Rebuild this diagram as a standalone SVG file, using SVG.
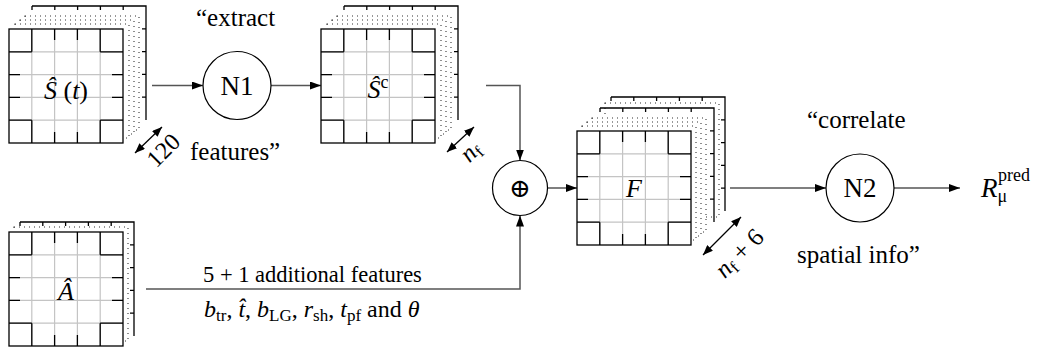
<svg xmlns="http://www.w3.org/2000/svg" width="1040" height="351" viewBox="0 0 1040 351">
<style>
.t{font-family:Liberation Serif, DejaVu Serif, Noto Serif, serif;fill:#000}
.lbl{font-size:25px}
.gl{fill:none;stroke:#c4c4c4;stroke-width:1.2}
.bk{fill:none;stroke:#000;stroke-width:1.3}
.frame{fill:none;stroke:#000;stroke-width:1.3}
.dot{fill:#fff;stroke:#333;stroke-width:1.1;stroke-dasharray:1 4}
.back{fill:none;stroke:#000;stroke-width:1.3}
.conn{fill:none;stroke:#555;stroke-width:1.5}
.node{fill:#fff;stroke:#000;stroke-width:1.2}
.dim{fill:none;stroke:#000;stroke-width:1.3}
</style>
<defs>
<marker id="ah" markerUnits="userSpaceOnUse" markerWidth="11" markerHeight="8" refX="11" refY="4" orient="auto"><path d="M0,0 L11,4 L0,8 z" fill="#000"/></marker>
<marker id="dh" markerUnits="userSpaceOnUse" markerWidth="10" markerHeight="8" refX="10" refY="4" orient="auto-start-reverse"><path d="M0,0 L10,4 L0,8 z" fill="#000"/></marker>
<g id="grid">
<rect x="0" y="0" width="114" height="114" fill="#fff"/>
<path class="gl" d="M22.8 0V114M45.6 0V114M68.4 0V114M91.2 0V114M0 22.8H114M0 45.6H114M0 68.4H114M0 91.2H114"/>
<path class="bk" d="M22.8 0V22.8M22.8 91.2V114M91.2 0V22.8M91.2 91.2V114M0 22.8H22.8M91.2 22.8H114M0 91.2H22.8M91.2 91.2H114M45.6 0V11M45.6 103V114M68.4 0V11M68.4 103V114M0 45.6H11M103 45.6H114M0 68.4H11M103 68.4H114"/>
<rect class="frame" x="0" y="0" width="114" height="114"/>
</g>
<path id="dl" class="dot" d="M0 0H114V114H0z"/>
<path id="bl" class="back" d="M0 0H114V114M0 0v4M22.8 0v4M45.6 0v4M68.4 0v4M91.2 0v4M114 22.8h-4M114 45.6h-4M114 68.4h-4M114 91.2h-4"/>
</defs>

<g id="connectors">
<path class="conn" d="M152 85.5H203" marker-end="url(#ah)"/>
<path class="conn" d="M271 85.5H321" marker-end="url(#ah)"/>
<path class="conn" d="M486 85.5H520V160.5" marker-end="url(#ah)"/>
<path class="conn" d="M146 289H520V215.5" marker-end="url(#ah)"/>
<path class="conn" d="M547.5 188H577" marker-end="url(#ah)"/>
<path class="conn" d="M730 188H826" marker-end="url(#ah)"/>
<path class="conn" d="M894 188H960" marker-end="url(#ah)"/>
<path class="dim" d="M135 153L162 127" marker-start="url(#dh)" marker-end="url(#dh)"/>
<path class="dim" d="M447 152L474 127" marker-start="url(#dh)" marker-end="url(#dh)"/>
<path class="dim" d="M703 255L741 217" marker-start="url(#dh)" marker-end="url(#dh)"/>
</g>

<g id="S_t">
<use href="#bl" x="32" y="6"/>
<use href="#dl" x="25" y="16"/>
<use href="#dl" x="20" y="20"/>
<use href="#dl" x="15" y="24"/>
<use href="#grid" x="9" y="29"/>
<text class="t" x="66" y="99" text-anchor="middle" font-size="26"><tspan font-style="italic">Ŝ</tspan> (<tspan font-style="italic">t</tspan>)</text>
<text class="t" x="169" y="156" text-anchor="middle" font-size="24" transform="rotate(-45 169 156)">120</text>
</g>

<g id="N1">
<circle class="node" cx="237" cy="85.5" r="34"/>
<text class="t" x="237" y="95" text-anchor="middle" font-size="27">N1</text>
<text class="t lbl" x="196" y="26">“extract</text>
<text class="t lbl" x="190" y="160">features”</text>
</g>

<g id="S_c">
<use href="#bl" x="344" y="6"/>
<use href="#dl" x="337" y="16"/>
<use href="#dl" x="332" y="20"/>
<use href="#dl" x="327" y="24"/>
<use href="#grid" x="321" y="29"/>
<text class="t" x="378" y="98" text-anchor="middle" font-size="26"><tspan font-style="italic">Ŝ</tspan><tspan font-size="18" dy="-10">c</tspan></text>
<text class="t" x="476" y="157" text-anchor="middle" font-size="25" transform="rotate(-45 476 157)"><tspan font-style="italic">n</tspan><tspan font-size="17" dy="4">f</tspan></text>
</g>

<g id="A">
<use href="#bl" x="20" y="222"/>
<use href="#dl" x="14" y="227"/>
<use href="#grid" x="9" y="232"/>
<text class="t" x="66" y="300" text-anchor="middle" font-size="26" font-style="italic">Â</text>
<text class="t" x="203" y="282" font-size="22.5">5 + 1 additional features</text>
<text class="t" x="204" y="317" font-size="24"><tspan font-style="italic">b</tspan><tspan font-size="17" dy="4">tr</tspan><tspan dy="-4">, </tspan><tspan font-style="italic">t̂</tspan>, <tspan font-style="italic">b</tspan><tspan font-size="17" dy="4">LG</tspan><tspan dy="-4">, </tspan><tspan font-style="italic">r</tspan><tspan font-size="17" dy="4">sh</tspan><tspan dy="-4">, </tspan><tspan font-style="italic">t</tspan><tspan font-size="17" dy="4">pf</tspan><tspan dy="-4"> and </tspan><tspan font-style="italic">θ</tspan></text>
</g>

<g id="plus">
<circle class="node" cx="520" cy="188" r="27.5"/>
<text class="t" x="520" y="197" text-anchor="middle" font-size="26">⊕</text>
</g>

<g id="F">
<use href="#bl" x="611" y="97"/>
<use href="#dl" x="605" y="103"/>
<use href="#bl" x="600" y="108"/>
<use href="#dl" x="592" y="118"/>
<use href="#dl" x="587" y="122"/>
<use href="#dl" x="582" y="126"/>
<use href="#grid" x="577" y="131"/>
<text class="t" x="634" y="197" text-anchor="middle" font-size="26" font-style="italic">F</text>
<text class="t" x="745" y="259" text-anchor="middle" font-size="25" transform="rotate(-45 745 259)"><tspan font-style="italic">n</tspan><tspan font-size="17" dy="4">f</tspan><tspan dy="-4"> + 6</tspan></text>
</g>

<g id="N2">
<circle class="node" cx="860" cy="188" r="34"/>
<text class="t" x="860" y="197" text-anchor="middle" font-size="27">N2</text>
<text class="t lbl" x="807" y="128">“correlate</text>
<text class="t lbl" x="797" y="263">spatial info”</text>
</g>

<g id="R">
<text class="t" x="981" y="197" font-size="27"><tspan font-style="italic">R</tspan><tspan font-size="18" dy="5">μ</tspan><tspan font-size="18" x="998" dy="-21">pred</tspan></text>
</g>
</svg>
